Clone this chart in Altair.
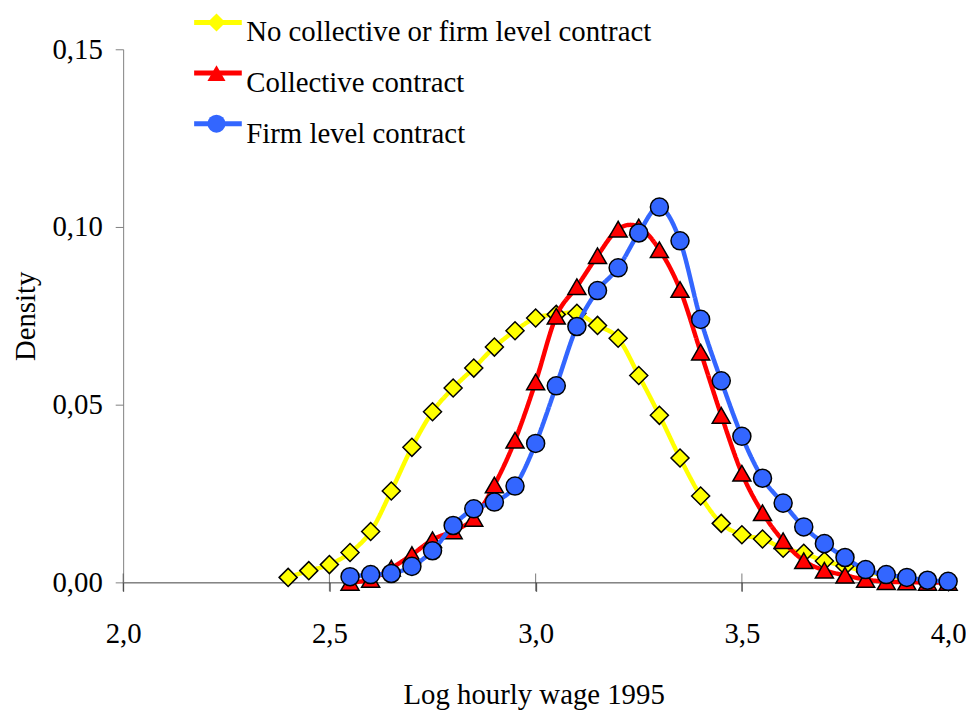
import altair as alt
import pandas as pd

series_names = ["No collective or firm level contract", "Collective contract", "Firm level contract"]
line_colors = ["#FFFF00", "#FF0000", "#3366FF"]
shapes = ["diamond", "triangle-up", "circle"]

x_no = [2.40, 2.45, 2.50, 2.55, 2.60, 2.65, 2.70, 2.75, 2.80, 2.85, 2.90, 2.95, 3.00,
        3.05, 3.10, 3.15, 3.20, 3.25, 3.30, 3.35, 3.40, 3.45, 3.50, 3.55, 3.60, 3.65,
        3.70, 3.75, 3.80, 3.85, 3.90]
y_no = [0.0014, 0.0033, 0.0050, 0.0084, 0.0143, 0.0257, 0.0380, 0.0480, 0.0547, 0.0603,
        0.0662, 0.0708, 0.0744, 0.0754, 0.0757, 0.0723, 0.0687, 0.0582, 0.0470, 0.0350,
        0.0243, 0.0166, 0.0134, 0.0122, 0.0096, 0.0082, 0.0060, 0.0046, 0.0030, 0.0020,
        0.0010]

x_coll = [2.55, 2.60, 2.65, 2.70, 2.75, 2.80, 2.85, 2.90, 2.95, 3.00, 3.05, 3.10, 3.15,
          3.20, 3.25, 3.30, 3.35, 3.40, 3.45, 3.50, 3.55, 3.60, 3.65, 3.70, 3.75, 3.80,
          3.85, 3.90, 3.95, 4.00]
y_coll = [0.0000, 0.0008, 0.0040, 0.0078, 0.0120, 0.0145, 0.0180, 0.0274, 0.0400, 0.0564,
          0.0749, 0.0832, 0.0919, 0.0994, 0.1000, 0.0936, 0.0824, 0.0648, 0.0470, 0.0307,
          0.0196, 0.0117, 0.0061, 0.0034, 0.0020, 0.0008, 0.0002, 0.0001, 0.0000, 0.0000]

x_firm = [2.55, 2.60, 2.65, 2.70, 2.75, 2.80, 2.85, 2.90, 2.95, 3.00, 3.05, 3.10, 3.15,
          3.20, 3.25, 3.30, 3.35, 3.40, 3.45, 3.50, 3.55, 3.60, 3.65, 3.70, 3.75, 3.80,
          3.85, 3.90, 3.95, 4.00]
y_firm = [0.0016, 0.0022, 0.0025, 0.0045, 0.0089, 0.0160, 0.0207, 0.0226, 0.0271, 0.0391,
          0.0553, 0.0720, 0.0821, 0.0885, 0.0983, 0.1056, 0.0961, 0.0740, 0.0567, 0.0411,
          0.0293, 0.0223, 0.0156, 0.0109, 0.0070, 0.0036, 0.0022, 0.0014, 0.0006, 0.0003]

x_ticks = [2.0, 2.5, 3.0, 3.5, 4.0]
y_ticks = [0.0, 0.05, 0.10, 0.15]

FONT = "Liberation Serif"
FS = 29

rows = []
for i, (name, xs, ys) in enumerate(zip(series_names, [x_no, x_coll, x_firm], [y_no, y_coll, y_firm])):
    for xv, yv in zip(xs, ys):
        rows.append({"series": name, "series2": f"{i + 1} {name}", "series3": f"{i + 1}|{name}",
                     "x": xv, "y": yv})
df = pd.DataFrame(rows)
keys2 = [f"{i + 1} {n}" for i, n in enumerate(series_names)]
keys3 = [f"{i + 1}|{n}" for i, n in enumerate(series_names)]

x_enc = alt.X(
    "x:Q",
    scale=alt.Scale(domain=[2, 4], nice=False, zero=False),
    title="Log hourly wage 1995",
    axis=alt.Axis(
        values=x_ticks,
        labelExpr="replace(format(datum.value, '.1f'), '.', ',')",
        labelFont=FONT, labelFontSize=FS, labelColor="black",
        labelBaseline="alphabetic", labelPadding=52, labelFlush=False, labelOverlap=False,
        tickSize=9, tickColor="#404040", domainColor="#404040", grid=False,
        titleFont=FONT, titleFontSize=FS, titleFontWeight="normal", titleColor="black",
        titleX=413.5, titleY=122, titleBaseline="alphabetic", titleAlign="center",
    ),
)
y_enc = alt.Y(
    "y:Q",
    scale=alt.Scale(domain=[0, 0.15], nice=False),
    title="Density",
    axis=alt.Axis(
        values=y_ticks,
        labelExpr="replace(format(datum.value, '.2f'), '.', ',')",
        labelFont=FONT, labelFontSize=FS, labelColor="black",
        labelPadding=13, labelFlush=False, labelOverlap=False,
        tickSize=8, tickColor="#808080", domainColor="#808080", grid=False,
        titleFont=FONT, titleFontSize=FS, titleFontWeight="normal", titleColor="black",
        titleX=-89, titleY=268.5, titleAngle=270, titleBaseline="alphabetic", titleAlign="center",
    ),
)

# legend of line strokes (no labels)
stroke_legend = alt.Legend(
    orient="none", legendX=69, legendY=-52, title=None, padding=0,
    symbolType="stroke", symbolSize=2304, symbolStrokeWidth=5,
    clipHeight=50, rowPadding=1, labelExpr="''", labelFontSize=1, labelOpacity=0,
)
# legend of markers (no labels)
point_legend = alt.Legend(
    orient="none", legendX=84, legendY=-52, title=None, padding=0,
    symbolSize=330, symbolStrokeColor="black", symbolStrokeWidth=1.5, symbolOpacity=1,
    clipHeight=50, rowPadding=1, labelExpr="''", labelFontSize=1, labelOpacity=0,
)
# legend carrying the texts
label_legend = alt.Legend(
    orient="none", legendX=95, legendY=-42, title=None, padding=0,
    symbolSize=1, symbolOpacity=0, symbolType="stroke",
    clipHeight=50, rowPadding=1,
    labelFont=FONT, labelFontSize=FS, labelColor="black", labelBaseline="middle",
    labelOffset=0, labelLimit=0, labelExpr="slice(datum.label, 2)",
)

color_enc = alt.Color("series:N", scale=alt.Scale(domain=series_names, range=line_colors), legend=stroke_legend)
dash_enc = alt.StrokeDash("series3:N", scale=alt.Scale(domain=keys3, range=[[1, 0], [1, 0], [1, 0]]),
                          legend=label_legend)
fill_enc = alt.Fill("series2:N", scale=alt.Scale(domain=keys2, range=line_colors), legend=point_legend)
shape_enc = alt.Shape("series2:N", scale=alt.Scale(domain=keys2, range=shapes), legend=point_legend)

layers = []
for name in series_names:
    sel = alt.datum.series == name
    line = alt.Chart(df).transform_filter(sel).mark_line(
        interpolate="cardinal", strokeWidth=4.5
    ).encode(x=x_enc, y=y_enc, color=color_enc, strokeDash=dash_enc)
    pts = alt.Chart(df).transform_filter(sel).mark_point(
        filled=True, size=330, stroke="black", strokeWidth=1.5, opacity=1
    ).encode(x=x_enc, y=y_enc, fill=fill_enc, shape=shape_enc)
    layers += [line, pts]

tick_df = pd.DataFrame({"x": x_ticks})
inner_ticks = alt.Chart(tick_df).mark_tick(
    orient="vertical", size=18, thickness=1, color="#404040"
).encode(x=x_enc, y=alt.datum(0))

chart = alt.layer(inner_ticks, *layers).properties(
    width=831, height=537,
    padding={"left": 116, "top": 39, "right": 18, "bottom": 128},
    autosize="none",
    background="white",
).configure_view(strokeWidth=0)

chart.save("out.html", embed_options={"renderer": "svg", "actions": False})
